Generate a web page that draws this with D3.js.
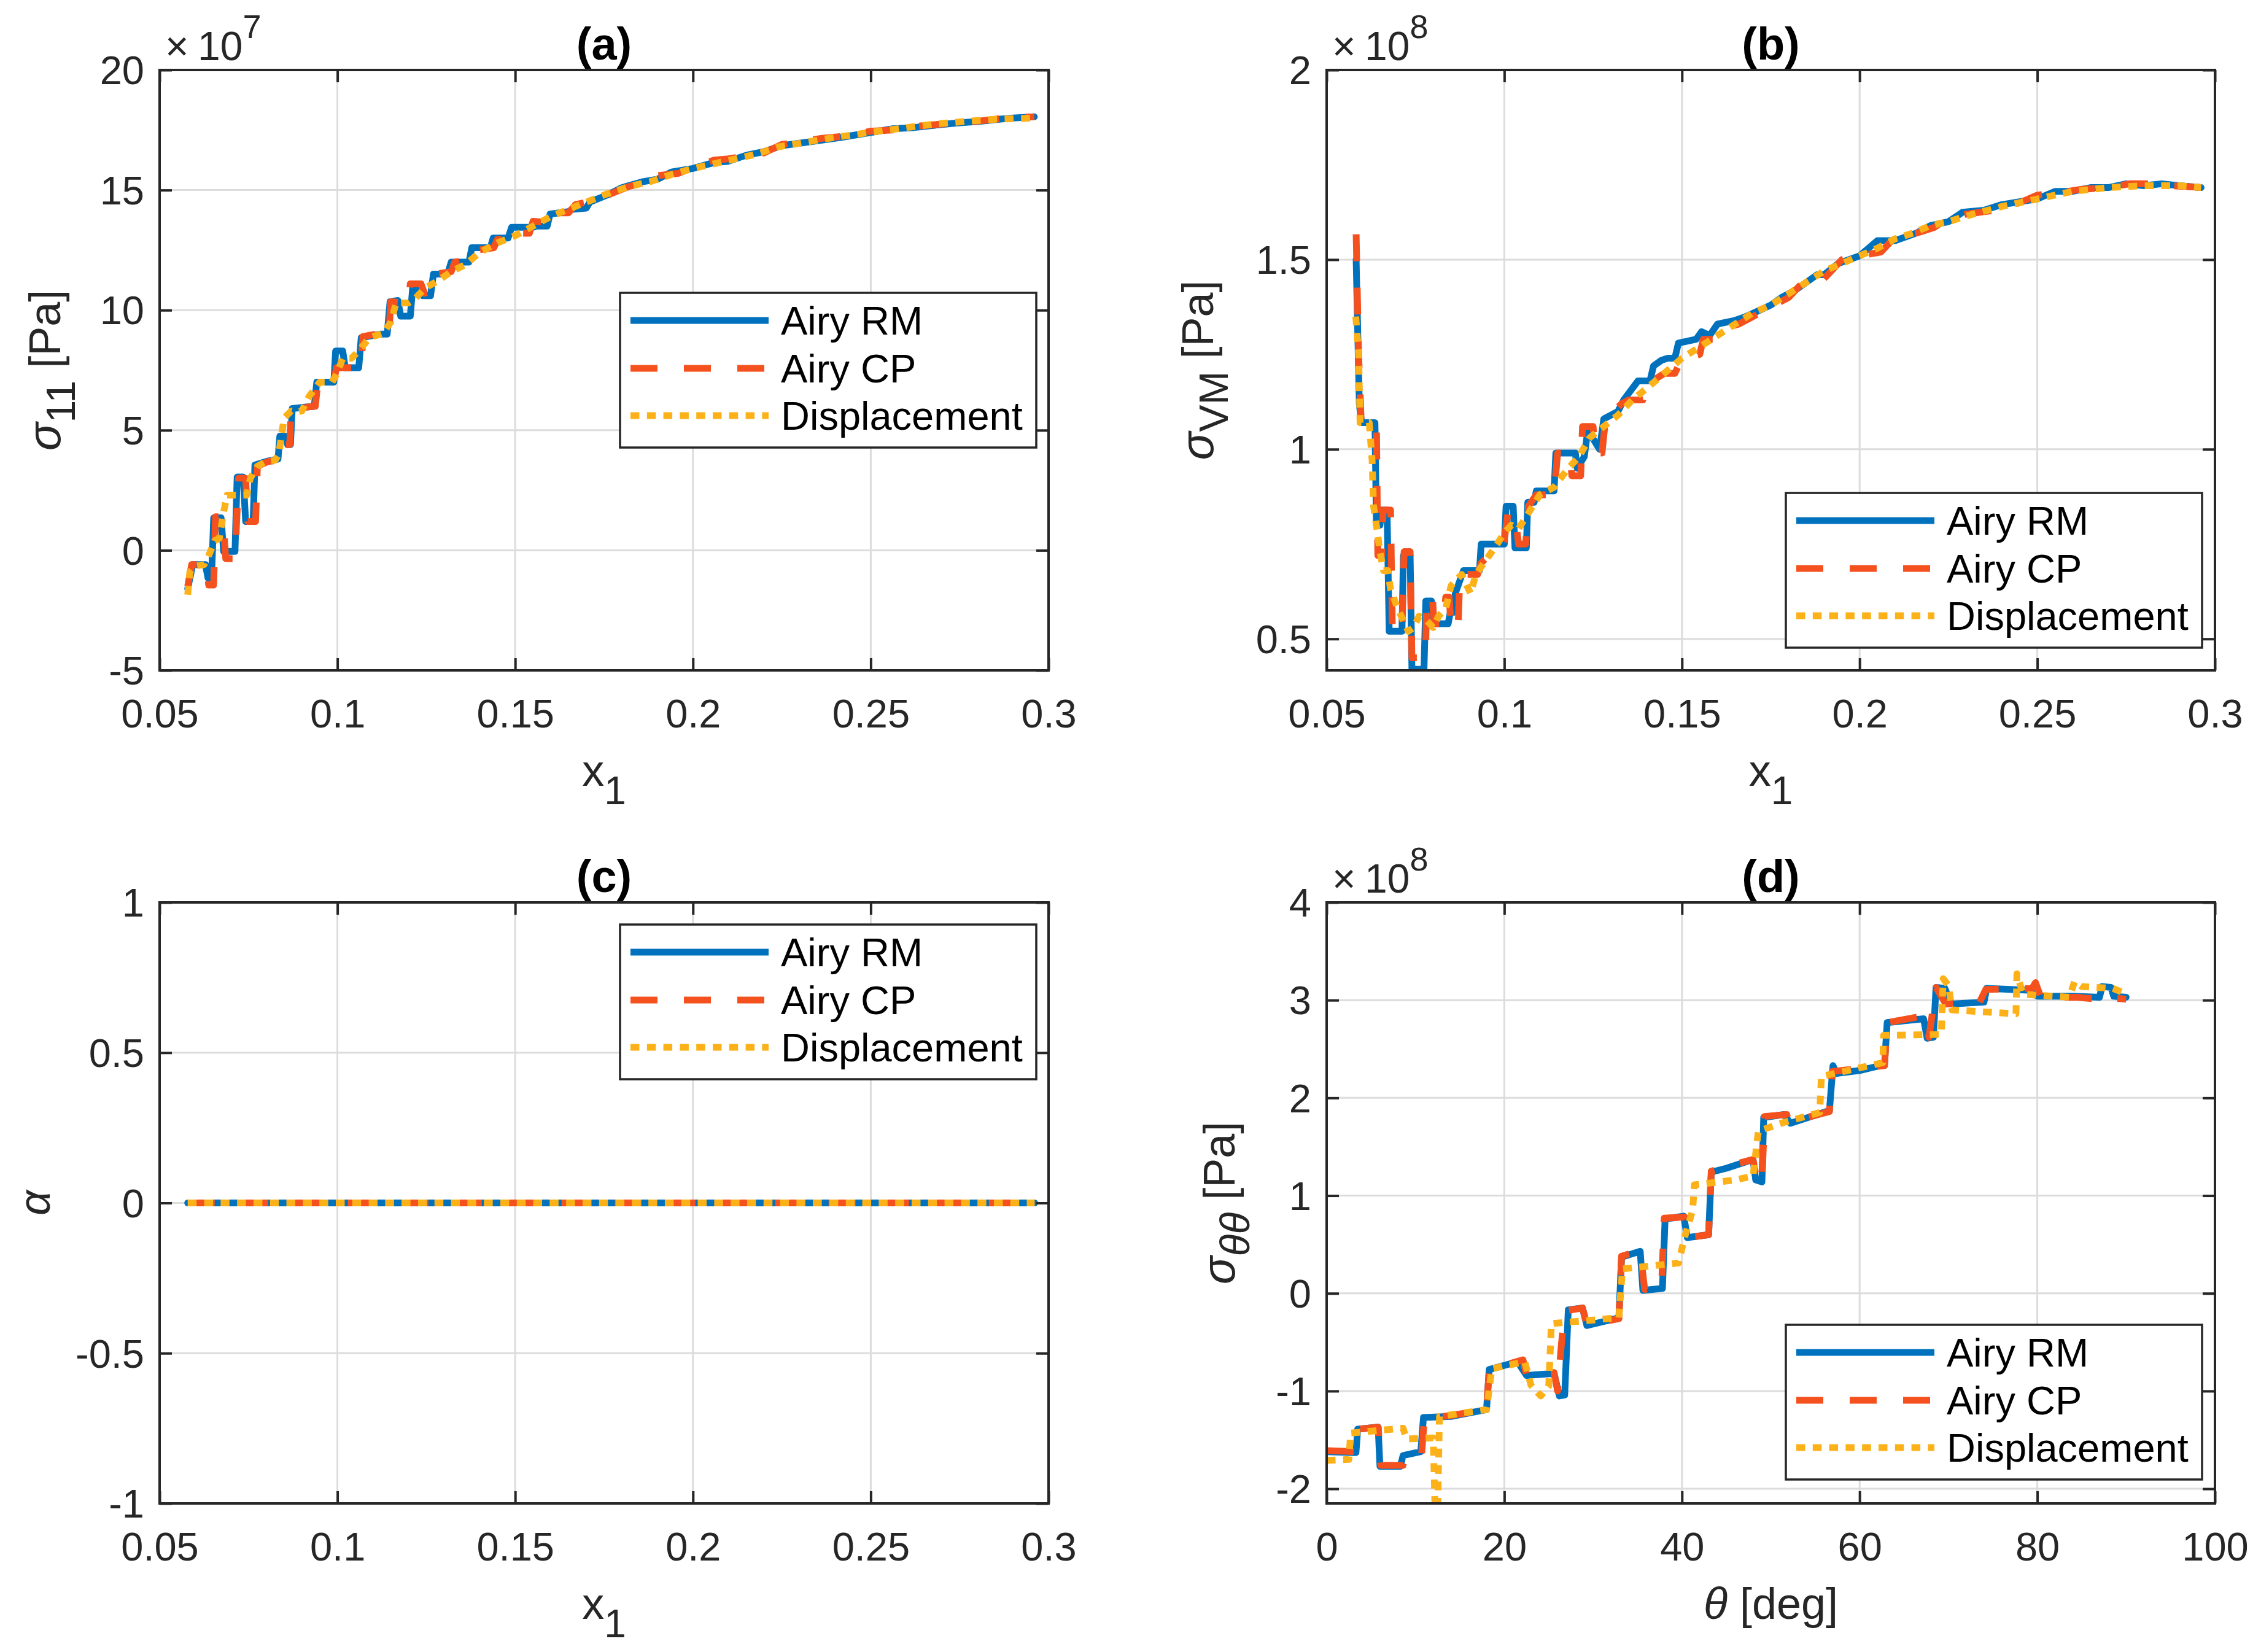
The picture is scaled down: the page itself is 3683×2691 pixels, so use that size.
<!DOCTYPE html>
<html>
<head>
<meta charset="utf-8">
<script src="https://cdn.jsdelivr.net/npm/d3@7"></script>
<style>
body { margin: 0; background: #fff; }
text { font-family: "Liberation Sans", Arial, Helvetica, sans-serif; }
</style>
</head>
<body>
<div id="chart"></div>
<script>

// ---- data ----

// (a) sigma_11 [x1, value x1e7 Pa]
var aRM = [[0.0579,-1.6],[0.0593,-0.6],[0.0629,-0.6],[0.0636,-1.15],[0.0646,-1.15],[0.0652,1.35],[0.0673,1.35],[0.0680,-0.05],[0.0712,-0.05],[0.0718,3.05],[0.0735,3.05],[0.0742,1.2],[0.0763,1.2],[0.0768,3.55],[0.0800,3.7],[0.0833,3.8],[0.0838,4.75],[0.0855,4.75],[0.0860,4.4],[0.0868,4.4],[0.0873,5.9],[0.0935,6.0],[0.0942,7.0],[0.0990,7.0],[0.0995,8.3],[0.1015,8.3],[0.1022,7.6],[0.1060,7.6],[0.1067,8.85],[0.1120,9.0],[0.1140,9.0],[0.1148,10.35],[0.1170,10.4],[0.1178,9.75],[0.1205,9.75],[0.1212,11.0],[0.1240,10.6],[0.1262,10.6],[0.1270,11.5],[0.1310,11.5],[0.1320,12.0],[0.1370,12.0],[0.1378,12.6],[0.1430,12.6],[0.1438,13.0],[0.1480,13.0],[0.1490,13.45],[0.1550,13.45],[0.1560,13.5],[0.1590,13.5],[0.1598,14.0],[0.1650,14.1],[0.1660,14.2],[0.1700,14.25],[0.1710,14.5],[0.1760,14.8],[0.1800,15.1],[0.1860,15.35],[0.1900,15.45],[0.1940,15.75],[0.2000,15.9],[0.2060,16.15],[0.2100,16.2],[0.2150,16.45],[0.2200,16.6],[0.2250,16.85],[0.2300,16.95],[0.2350,17.05],[0.2420,17.2],[0.2500,17.4],[0.2560,17.55],[0.2620,17.6],[0.2680,17.7],[0.2750,17.8],[0.2800,17.85],[0.2860,17.95],[0.2900,18.0],[0.2960,18.05]];
var aCP = [[0.0579,-1.5],[0.0590,-0.6],[0.0632,-0.6],[0.0638,-1.45],[0.0652,-1.45],[0.0657,1.4],[0.0678,1.4],[0.0686,-0.35],[0.0712,-0.35],[0.0722,3.0],[0.0742,3.0],[0.0748,1.2],[0.0770,1.2],[0.0775,3.5],[0.0805,3.7],[0.0840,3.75],[0.0845,4.4],[0.0866,4.4],[0.0870,5.9],[0.0938,6.0],[0.0945,7.0],[0.0990,7.0],[0.0997,7.6],[0.1066,7.6],[0.1072,8.9],[0.1125,9.05],[0.1145,9.0],[0.1150,10.35],[0.1200,10.3],[0.1205,11.1],[0.1235,11.1],[0.1245,10.7],[0.1265,10.8],[0.1275,11.5],[0.1320,11.6],[0.1330,12.0],[0.1380,12.1],[0.1395,12.5],[0.1440,12.6],[0.1450,12.95],[0.1490,12.9],[0.1500,13.2],[0.1540,13.2],[0.1550,13.7],[0.1590,13.65],[0.1600,14.05],[0.1650,14.05],[0.1670,14.4],[0.1720,14.55],[0.1770,14.85],[0.1820,15.15],[0.1860,15.3],[0.1900,15.6],[0.1960,15.7],[0.2000,15.95],[0.2060,16.25],[0.2100,16.3],[0.2160,16.45],[0.2200,16.55],[0.2250,16.9],[0.2300,17.0],[0.2360,17.15],[0.2430,17.25],[0.2500,17.45],[0.2560,17.5],[0.2620,17.65],[0.2700,17.75],[0.2760,17.8],[0.2820,17.9],[0.2880,18.0],[0.2960,18.05]];
var aDisp = [[0.0579,-1.85],[0.0585,-0.9],[0.0600,-0.65],[0.0625,-0.6],[0.0640,-0.15],[0.0655,0.4],[0.0668,0.5],[0.0680,1.6],[0.0690,2.3],[0.0745,2.3],[0.0755,3.0],[0.0775,3.5],[0.0800,3.7],[0.0825,3.75],[0.0835,4.0],[0.0850,5.5],[0.0870,5.8],[0.0885,5.75],[0.0900,5.8],[0.0920,6.4],[0.0950,7.0],[0.0985,7.0],[0.1000,7.4],[0.1015,8.0],[0.1040,8.0],[0.1060,8.3],[0.1090,8.85],[0.1130,9.05],[0.1150,9.5],[0.1165,10.3],[0.1200,10.3],[0.1220,10.5],[0.1245,10.9],[0.1280,11.2],[0.1320,11.6],[0.1360,11.9],[0.1400,12.4],[0.1450,12.8],[0.1500,13.1],[0.1550,13.5],[0.1600,13.9],[0.1650,14.2],[0.1700,14.5],[0.1760,14.85],[0.1820,15.15],[0.1880,15.35],[0.1940,15.65],[0.2000,15.9],[0.2060,16.1],[0.2120,16.3],[0.2180,16.5],[0.2240,16.8],[0.2300,16.95],[0.2380,17.15],[0.2450,17.3],[0.2520,17.45],[0.2600,17.6],[0.2680,17.75],[0.2760,17.85],[0.2850,17.95],[0.2960,18.0]];

// (b) sigma_VM [x1, value x1e8 Pa]
var bRM = [[0.0583,1.50],[0.0592,1.12],[0.0598,1.07],[0.0636,1.07],[0.0640,0.80],[0.0650,0.80],[0.0655,0.84],[0.0670,0.84],[0.0676,0.52],[0.0712,0.52],[0.0716,0.72],[0.0735,0.72],[0.0740,0.42],[0.0774,0.42],[0.0779,0.60],[0.0795,0.60],[0.0800,0.54],[0.0842,0.54],[0.0848,0.57],[0.0858,0.57],[0.0862,0.62],[0.0885,0.68],[0.0930,0.68],[0.0935,0.75],[0.1000,0.75],[0.1005,0.85],[0.1025,0.85],[0.1030,0.74],[0.1062,0.74],[0.1066,0.86],[0.1084,0.86],[0.1090,0.89],[0.1140,0.89],[0.1145,0.99],[0.1200,0.99],[0.1205,0.95],[0.1225,0.98],[0.1235,1.05],[0.1268,1.00],[0.1280,1.08],[0.1320,1.10],[0.1336,1.13],[0.1376,1.18],[0.1410,1.18],[0.1420,1.22],[0.1443,1.235],[0.1460,1.24],[0.1480,1.24],[0.1490,1.28],[0.1540,1.29],[0.1555,1.31],[0.1578,1.30],[0.1600,1.33],[0.1650,1.34],[0.1680,1.35],[0.1750,1.38],[0.1780,1.40],[0.1820,1.42],[0.1880,1.46],[0.1900,1.46],[0.1940,1.49],[0.2000,1.51],[0.2050,1.55],[0.2100,1.55],[0.2160,1.57],[0.2200,1.59],[0.2250,1.60],[0.2290,1.625],[0.2350,1.63],[0.2400,1.645],[0.2500,1.66],[0.2550,1.68],[0.2600,1.68],[0.2650,1.69],[0.2700,1.69],[0.2750,1.70],[0.2800,1.695],[0.2850,1.70],[0.2900,1.695],[0.2961,1.69]];
var bCP = [[0.0583,1.567],[0.0590,1.25],[0.0597,1.08],[0.0640,1.08],[0.0644,0.72],[0.0655,0.72],[0.0659,0.84],[0.0680,0.84],[0.0685,0.52],[0.0712,0.52],[0.0718,0.73],[0.0735,0.73],[0.0740,0.45],[0.0778,0.45],[0.0782,0.61],[0.0798,0.61],[0.0802,0.54],[0.0830,0.54],[0.0835,0.61],[0.0845,0.61],[0.0850,0.53],[0.0870,0.53],[0.0875,0.67],[0.0925,0.67],[0.0935,0.70],[0.1000,0.76],[0.1010,0.83],[0.1030,0.83],[0.1040,0.75],[0.1060,0.75],[0.1068,0.85],[0.1090,0.88],[0.1140,0.88],[0.1150,0.99],[0.1185,0.99],[0.1190,0.93],[0.1215,0.93],[0.1220,1.06],[0.1250,1.06],[0.1255,0.99],[0.1275,0.99],[0.1285,1.08],[0.1330,1.12],[0.1350,1.13],[0.1390,1.13],[0.1400,1.17],[0.1450,1.20],[0.1480,1.20],[0.1500,1.24],[0.1550,1.25],[0.1560,1.29],[0.1600,1.29],[0.1620,1.32],[0.1660,1.33],[0.1700,1.35],[0.1760,1.38],[0.1800,1.40],[0.1850,1.45],[0.1900,1.45],[0.1950,1.50],[0.2000,1.51],[0.2060,1.52],[0.2100,1.56],[0.2160,1.57],[0.2210,1.585],[0.2250,1.61],[0.2300,1.62],[0.2380,1.63],[0.2450,1.65],[0.2500,1.67],[0.2550,1.675],[0.2620,1.685],[0.2700,1.69],[0.2760,1.70],[0.2820,1.70],[0.2880,1.695],[0.2961,1.69]];
var bDisp = [[0.0582,1.35],[0.0590,1.25],[0.0594,1.07],[0.0620,1.07],[0.0628,0.97],[0.0632,0.85],[0.0640,0.80],[0.0650,0.73],[0.0660,0.68],[0.0672,0.68],[0.0680,0.63],[0.0700,0.58],[0.0715,0.55],[0.0730,0.52],[0.0745,0.53],[0.0760,0.56],[0.0780,0.55],[0.0800,0.53],[0.0815,0.56],[0.0835,0.58],[0.0850,0.64],[0.0880,0.67],[0.0905,0.62],[0.0920,0.67],[0.0950,0.71],[0.0980,0.75],[0.1000,0.78],[0.1020,0.80],[0.1040,0.79],[0.1060,0.82],[0.1100,0.88],[0.1140,0.90],[0.1180,0.95],[0.1210,0.98],[0.1240,1.03],[0.1280,1.06],[0.1320,1.09],[0.1360,1.13],[0.1400,1.16],[0.1450,1.20],[0.1500,1.24],[0.1550,1.27],[0.1600,1.30],[0.1650,1.33],[0.1700,1.36],[0.1750,1.38],[0.1800,1.41],[0.1850,1.44],[0.1900,1.47],[0.1950,1.49],[0.2000,1.51],[0.2050,1.53],[0.2100,1.555],[0.2150,1.57],[0.2200,1.59],[0.2250,1.60],[0.2300,1.615],[0.2400,1.64],[0.2500,1.66],[0.2600,1.68],[0.2700,1.69],[0.2800,1.695],[0.2900,1.695],[0.2961,1.69]];

// (c) alpha, all three methods give zero
var cX = [0.0579, 0.2961];
var cRM = [0, 0];
var cCP = [0, 0];
var cDisp = [0, 0];

// (d) sigma_thetatheta [theta deg, value x1e8 Pa]
var dRM = [[0,-1.62],[3.3,-1.63],[3.5,-1.39],[5.8,-1.37],[6.0,-1.77],[8.3,-1.77],[8.6,-1.66],[10.6,-1.62],[10.9,-1.27],[14.0,-1.26],[18.0,-1.19],[18.3,-0.78],[21.5,-0.70],[22.5,-0.84],[25.6,-0.82],[26.2,-1.05],[26.8,-1.04],[27.2,-0.17],[28.8,-0.15],[29.3,-0.33],[32.9,-0.25],[33.2,0.37],[35.3,0.43],[35.6,0.03],[37.8,0.05],[38.1,0.76],[40.2,0.79],[40.6,0.57],[43.0,0.60],[43.3,1.24],[45.0,1.28],[48.0,1.37],[48.3,1.16],[49.0,1.14],[49.2,1.80],[51.5,1.83],[52.2,1.74],[56.6,1.87],[57.0,2.33],[57.4,2.25],[60.0,2.28],[62.8,2.34],[63.1,2.77],[67.2,2.81],[67.6,2.61],[68.3,2.62],[68.6,3.13],[69.6,3.12],[70.3,2.96],[74.0,2.98],[74.3,3.12],[79.4,3.10],[80.0,3.04],[84.0,3.04],[87.0,3.03],[87.3,3.14],[88.3,3.13],[88.6,3.04],[90.0,3.03]];
var dCP = [[0,-1.61],[3.3,-1.62],[3.6,-1.39],[5.8,-1.37],[6.1,-1.76],[8.6,-1.76],[8.8,-1.65],[10.7,-1.64],[11.0,-1.28],[14.0,-1.25],[18.0,-1.19],[18.3,-0.78],[22.1,-0.68],[22.5,-0.84],[25.6,-0.81],[26.0,-1.0],[26.4,-0.55],[26.8,-0.18],[28.8,-0.15],[29.3,-0.32],[32.9,-0.26],[33.2,0.38],[35.3,0.44],[35.8,0.04],[37.7,0.06],[38.0,0.77],[40.3,0.78],[40.6,0.57],[43.0,0.60],[43.3,1.25],[45.5,1.31],[48.0,1.37],[48.5,1.12],[49.0,1.14],[49.3,1.81],[51.8,1.83],[52.0,1.75],[56.6,1.86],[56.9,2.27],[62.8,2.33],[63.1,2.77],[67.3,2.84],[67.8,2.62],[68.6,3.13],[69.7,2.96],[73.5,2.98],[74.2,3.11],[79.4,3.12],[79.8,3.18],[80.4,3.03],[84.5,3.03],[86.8,3.01],[87.3,3.03],[88.0,3.04],[88.6,3.02],[90.0,3.01]];
var dDisp = [[0,-1.71],[2.5,-1.70],[2.7,-1.43],[8.6,-1.38],[9.0,-1.49],[12.0,-1.48],[12.2,-2.2],[12.5,-2.2],[12.7,-1.26],[18.0,-1.19],[18.6,-0.77],[22.3,-0.70],[23.0,-0.94],[24.1,-1.05],[25.0,-0.95],[25.3,-0.31],[32.9,-0.25],[33.3,0.25],[39.6,0.31],[40.35,0.59],[41.2,0.85],[41.4,1.11],[46.0,1.16],[48.0,1.20],[48.6,1.66],[51.5,1.75],[55.5,1.85],[55.7,2.22],[62.6,2.36],[62.7,2.64],[69.2,2.65],[69.4,3.22],[70.0,3.15],[70.4,2.90],[77.6,2.86],[77.7,3.27],[78.4,3.06],[83.6,3.03],[84.2,3.19],[85.0,3.14],[88.5,3.12],[89.9,3.07]];

// ticks
var x1Ticks = [0.05, 0.1, 0.15, 0.2, 0.25, 0.3];
var x1Labels = ["0.05", "0.1", "0.15", "0.2", "0.25", "0.3"];
var aTicks = [-5, 0, 5, 10, 15, 20];
var aLabels = ["-5", "0", "5", "10", "15", "20"];
var bTicks = [0.5, 1, 1.5, 2];
var bLabels = ["0.5", "1", "1.5", "2"];
var cTicks = [-1, -0.5, 0, 0.5, 1];
var cLabels = ["-1", "-0.5", "0", "0.5", "1"];
var thTicks = [0, 20, 40, 60, 80, 100];
var thLabels = ["0", "20", "40", "60", "80", "100"];
var dTicks = [-2, -1, 0, 1, 2, 3, 4];
var dLabels = ["-2", "-1", "0", "1", "2", "3", "4"];

var names = ["Airy RM", "Airy CP", "Displacement"];

// ---- drawing ----

var W = 3683, H = 2691;
var ink = "#262626";
var LW = 11;
var styles = [
	{color: "#0072BD", dash: null, cap: "round"},
	{color: "#F4511E", dash: "44,43", cap: "butt"},
	{color: "#FBB117", dash: "14.5,12.3", cap: "butt"}
];
var FS = 65;

var svg = d3.select("#chart")
	.append("svg")
	.attr("width", W)
	.attr("height", H);

svg.append("rect").attr("width", W).attr("height", H).attr("fill", "#fff");

function drawPanel(p) {
	var g = svg.append("g");

	var x = d3.scaleLinear().domain(p.xDomain).range([p.left, p.right]);
	var y = d3.scaleLinear().domain(p.yDomain).range([p.bottom, p.top]);

	var yt = p.yTicks.filter(d => d >= p.yDomain[0]);
	var yl = p.yLabels.filter((d, i) => p.yTicks[i] >= p.yDomain[0]);

	// grid
	g.selectAll(".gx").data(p.xTicks).enter().append("line")
		.attr("x1", d => x(d)).attr("x2", d => x(d))
		.attr("y1", p.top).attr("y2", p.bottom)
		.attr("stroke", "#dcdcdc").attr("stroke-width", 3);
	g.selectAll(".gy").data(yt).enter().append("line")
		.attr("x1", p.left).attr("x2", p.right)
		.attr("y1", d => y(d)).attr("y2", d => y(d))
		.attr("stroke", "#dcdcdc").attr("stroke-width", 3);

	// clip for curves
	svg.append("clipPath").attr("id", "clip-" + p.id)
		.append("rect")
		.attr("x", p.left).attr("y", p.top)
		.attr("width", p.right - p.left).attr("height", p.bottom - p.top);

	var line = d3.line()
		.x(function(d) { return x(d[0]); })
		.y(function(d) { return y(d[1]); });

	p.series.forEach(function(s, i) {
		g.append("path")
			.datum(s)
			.attr("clip-path", "url(#clip-" + p.id + ")")
			.attr("d", line)
			.attr("fill", "none")
			.attr("stroke", styles[i].color)
			.attr("stroke-width", LW)
			.attr("stroke-linejoin", "round")
			.attr("stroke-linecap", styles[i].cap)
			.attr("stroke-dasharray", styles[i].dash);
	});

	// axes (ticks pointing in, on all four sides)
	var axB = g.append("g").attr("transform", "translate(0," + p.bottom + ")")
		.call(d3.axisBottom(x).tickValues(p.xTicks)
			.tickFormat((d, i) => p.xLabels[i])
			.tickSizeInner(-20).tickSizeOuter(0).tickPadding(47));
	var axT = g.append("g").attr("transform", "translate(0," + p.top + ")")
		.call(d3.axisTop(x).tickValues(p.xTicks).tickFormat("")
			.tickSizeInner(-20).tickSizeOuter(0));
	var axL = g.append("g").attr("transform", "translate(" + p.left + ",0)")
		.call(d3.axisLeft(y).tickValues(yt)
			.tickFormat((d, i) => yl[i])
			.tickSizeInner(-20).tickSizeOuter(0).tickPadding(25));
	var axR = g.append("g").attr("transform", "translate(" + p.right + ",0)")
		.call(d3.axisRight(y).tickValues(yt).tickFormat("")
			.tickSizeInner(-20).tickSizeOuter(0));

	[axB, axT, axL, axR].forEach(function(a) {
		a.select(".domain").remove();
		a.attr("font-size", FS).attr("font-family", null).attr("color", ink);
		a.selectAll("line").attr("stroke-width", 4);
	});
	axL.selectAll("text").attr("dy", "0.35em");

	// box
	g.append("rect")
		.attr("x", p.left).attr("y", p.top)
		.attr("width", p.right - p.left).attr("height", p.bottom - p.top)
		.attr("fill", "none").attr("stroke", ink).attr("stroke-width", 4);

	// title
	g.append("text")
		.attr("x", (p.left + p.right) / 2).attr("y", p.top - 17)
		.attr("text-anchor", "middle")
		.attr("font-size", 74).attr("font-weight", "bold")
		.attr("fill", "#000")
		.text(p.title);

	// exponent label
	if (p.exp) {
		var ex = g.append("text")
			.attr("y", p.top - 16)
			.attr("font-size", 66).attr("fill", ink);
		ex.append("tspan").attr("x", p.left + 9).text("\u00d7");
		ex.append("tspan").attr("x", p.left + 62).text("10");
		ex.append("tspan").attr("font-size", 54).attr("dy", -36).text(p.exp);
	}

	// x label
	var xl = g.append("text")
		.attr("x", (p.left + p.right) / 2).attr("y", p.bottom + 188)
		.attr("text-anchor", "middle")
		.attr("font-size", 72).attr("fill", ink);
	p.xLabel(xl);

	// y label
	var ylab = g.append("text")
		.attr("transform", "translate(" + p.yLabelX + "," + (p.top + p.bottom) / 2 + ") rotate(-90)")
		.attr("text-anchor", "middle")
		.attr("font-size", 72).attr("fill", ink);
	p.yLabel(ylab);

	// legend
	var lg = g.append("g").attr("transform", "translate(" + p.legend[0] + "," + p.legend[1] + ")");
	lg.append("rect")
		.attr("width", 678).attr("height", 252)
		.attr("fill", "#fff").attr("stroke", ink).attr("stroke-width", 3.5);
	var rows = [45, 123, 200];
	names.forEach(function(n, i) {
		lg.append("line")
			.attr("x1", 17).attr("x2", 242)
			.attr("y1", rows[i]).attr("y2", rows[i])
			.attr("stroke", styles[i].color)
			.attr("stroke-width", LW)
			.attr("stroke-dasharray", styles[i].dash);
		lg.append("text")
			.attr("x", 262).attr("y", rows[i]).attr("dy", "0.36em")
			.attr("font-size", FS).attr("fill", "#000")
			.text(n);
	});
}

function xOneLabel(t) {
	t.append("tspan").text("x");
	t.append("tspan").attr("font-size", 64).attr("dy", 30).text("1");
}

function sigmaLabel(sub, subItalic) {
	return function(t) {
		t.append("tspan").attr("font-style", "italic").attr("font-size", 76).text("\u03c3");
		t.append("tspan").attr("font-size", 66).attr("dy", 24)
			.attr("font-style", subItalic ? "italic" : null).text(sub);
		t.append("tspan").attr("dy", -24).text(" [Pa]");
	};
}

var rowTop = [114, 1470], rowBottom = [1092, 2449];
var colLeft = [260, 2161], colRight = [1708, 3608];

drawPanel({
	id: "a", title: "(a)", exp: "7",
	left: colLeft[0], right: colRight[0], top: rowTop[0], bottom: rowBottom[0],
	xDomain: [0.05, 0.3], yDomain: [-5, 20],
	xTicks: x1Ticks, xLabels: x1Labels, yTicks: aTicks, yLabels: aLabels,
	series: [aRM, aCP, aDisp],
	xLabel: xOneLabel, yLabel: sigmaLabel("11", false), yLabelX: 98,
	legend: [1010, 477]
});

drawPanel({
	id: "b", title: "(b)", exp: "8",
	left: colLeft[1], right: colRight[1], top: rowTop[0], bottom: rowBottom[0],
	xDomain: [0.05, 0.3], yDomain: [0.417, 2],
	xTicks: x1Ticks, xLabels: x1Labels, yTicks: bTicks, yLabels: bLabels,
	series: [bRM, bCP, bDisp],
	xLabel: xOneLabel, yLabel: sigmaLabel("VM", false), yLabelX: 1976,
	legend: [2909, 803]
});

drawPanel({
	id: "c", title: "(c)", exp: null,
	left: colLeft[0], right: colRight[0], top: rowTop[1], bottom: rowBottom[1],
	xDomain: [0.05, 0.3], yDomain: [-1, 1],
	xTicks: x1Ticks, xLabels: x1Labels, yTicks: cTicks, yLabels: cLabels,
	series: [cRM, cCP, cDisp].map(v => v.map((d, i) => [cX[i], d])),
	xLabel: xOneLabel,
	yLabel: function(t) {
		t.attr("font-family", "'Liberation Serif', 'DejaVu Serif', serif")
			.attr("font-style", "italic").attr("font-size", 72).text("\u03b1");
	},
	yLabelX: 81,
	legend: [1010, 1506]
});

drawPanel({
	id: "d", title: "(d)", exp: "8",
	left: colLeft[1], right: colRight[1], top: rowTop[1], bottom: rowBottom[1],
	xDomain: [0, 100], yDomain: [-2.15, 4],
	xTicks: thTicks, xLabels: thLabels, yTicks: dTicks, yLabels: dLabels,
	series: [dRM, dCP, dDisp],
	xLabel: function(t) {
		t.append("tspan").attr("font-style", "italic").text("\u03b8");
		t.append("tspan").text(" [deg]");
	},
	yLabel: sigmaLabel("\u03b8\u03b8", true), yLabelX: 2011,
	legend: [2909, 2158]
});

</script>
</body>
</html>
